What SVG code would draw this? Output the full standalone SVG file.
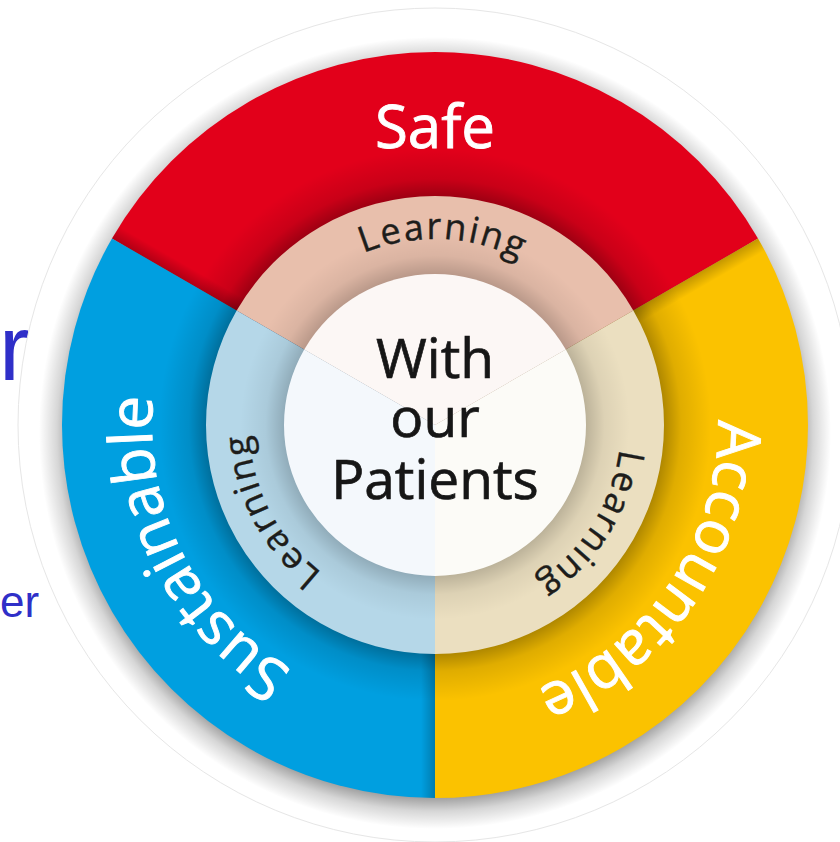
<svg xmlns="http://www.w3.org/2000/svg" width="840" height="842" viewBox="0 0 840 842">
<defs>
<style>
.lbl{font-family:"Open Sans","Noto Sans","Liberation Sans",sans-serif;}
.outer{fill:#ffffff;stroke:#ffffff;stroke-width:0.9px;font-size:60px;}
.learn{fill:#1d1d1b;stroke:#1d1d1b;stroke-width:0.4px;font-size:36px;letter-spacing:2px;}
.mid{fill:#161616;stroke:#161616;stroke-width:0.7px;font-size:55px;text-anchor:middle;}
.bg{font-family:"Liberation Sans",Arial,sans-serif;fill:#2f2fc8;}
</style>
<radialGradient id="drop" gradientUnits="userSpaceOnUse" cx="435" cy="433" r="396">
<stop offset="0.9" stop-color="#000" stop-opacity="0.5"/>
<stop offset="0.955" stop-color="#000" stop-opacity="0.16"/>
<stop offset="1" stop-color="#000" stop-opacity="0"/>
</radialGradient>
<radialGradient id="innerShade" gradientUnits="userSpaceOnUse" cx="435" cy="425" r="373">
<stop offset="0.614" stop-color="#000" stop-opacity="0.3"/>
<stop offset="0.66" stop-color="#000" stop-opacity="0.11"/>
<stop offset="0.74" stop-color="#000" stop-opacity="0"/>
</radialGradient>
<radialGradient id="ringShade" gradientUnits="userSpaceOnUse" cx="435" cy="425" r="229">
<stop offset="0.659" stop-color="#000" stop-opacity="0.2"/>
<stop offset="0.74" stop-color="#000" stop-opacity="0.06"/>
<stop offset="0.85" stop-color="#000" stop-opacity="0"/>
</radialGradient>
<linearGradient id="edgeShade" gradientUnits="userSpaceOnUse" x1="421" y1="0" x2="435" y2="0">
<stop offset="0" stop-color="#000" stop-opacity="0"/>
<stop offset="1" stop-color="#000" stop-opacity="0.22"/>
</linearGradient>
<clipPath id="disc"><circle cx="435" cy="425" r="373"/></clipPath>
<path id="arcL" d="M250.55,401.04 A186,186 0 0 1 620.81,416.56" fill="none"/>
<path id="arcS" d="M541.0,687.4 A283,283 0 0 1 285.0,185.0" fill="none"/>
<path id="arcA" d="M613.1,205.1 A283,283 0 0 1 297.8,672.5" fill="none"/>
</defs>

<rect width="840" height="842" fill="#ffffff"/>

<g id="background-text">
<text class="bg" x="-1" y="380" font-size="92">r</text>
<text class="bg" x="0" y="617" font-size="44">er</text>
</g>

<g id="halo">
<circle cx="435" cy="425" r="417" fill="#ffffff" stroke="#e6e6e6" stroke-width="1"/>
<circle cx="435" cy="433" r="396" fill="url(#drop)"/>
</g>

<g id="safe">
<path d="M435,425 L111.97,238.5 A373,373 0 0 1 758.03,238.5 Z" fill="#e2001a"/>
</g>
<g id="accountable">
<path d="M435,425 L758.03,238.5 A373,373 0 0 1 435,798 Z" fill="#fbc200"/>
</g>
<g id="sustainable">
<path d="M435,425 L435,798 A373,373 0 0 1 111.97,238.5 Z" fill="#009fe0"/>
</g>

<g id="shading">
<rect x="421" y="425" width="14" height="373" fill="url(#edgeShade)" clip-path="url(#disc)"/>
<rect x="421" y="425" width="14" height="373" fill="url(#edgeShade)" clip-path="url(#disc)" transform="rotate(120 435 425)"/>
<rect x="421" y="425" width="14" height="373" fill="url(#edgeShade)" clip-path="url(#disc)" transform="rotate(240 435 425)"/>
<circle cx="435" cy="425" r="373" fill="url(#innerShade)"/>
</g>

<g id="ring">
<path d="M435,425 L236.68,310.5 A229,229 0 0 1 633.32,310.5 Z" fill="#e8bfac"/>
<path d="M435,425 L633.32,310.5 A229,229 0 0 1 435,654 Z" fill="#ebdfc0"/>
<path d="M435,425 L435,654 A229,229 0 0 1 236.68,310.5 Z" fill="#b5d7e8"/>
<circle cx="435" cy="425" r="229" fill="url(#ringShade)"/>
</g>

<g id="center">
<path d="M435,425 L304.23,349.5 A151,151 0 0 1 565.77,349.5 Z" fill="#fcf7f5"/>
<path d="M435,425 L565.77,349.5 A151,151 0 0 1 435,576 Z" fill="#fcfbf7"/>
<path d="M435,425 L435,576 A151,151 0 0 1 304.23,349.5 Z" fill="#f4f8fc"/>
</g>

<g id="labels" class="lbl">
<text class="outer" x="435" y="148" font-size="62" text-anchor="middle">Safe</text>
<text class="outer"><textPath href="#arcA" startOffset="50%" text-anchor="middle">Accountable</textPath></text>
<text class="outer"><textPath href="#arcS" startOffset="50%" text-anchor="middle">Sustainable</textPath></text>
<text class="learn"><textPath href="#arcL" startOffset="50%" text-anchor="middle">Learning</textPath></text>
<g transform="rotate(120 435 425)"><text class="learn"><textPath href="#arcL" startOffset="50%" text-anchor="middle">Learning</textPath></text></g>
<g transform="rotate(240 435 425)"><text class="learn"><textPath href="#arcL" startOffset="50%" text-anchor="middle">Learning</textPath></text></g>
<text class="mid" x="435" y="378">With</text>
<text class="mid" x="435" y="437">our</text>
<text class="mid" x="435" y="499">Patients</text>
</g>
</svg>
